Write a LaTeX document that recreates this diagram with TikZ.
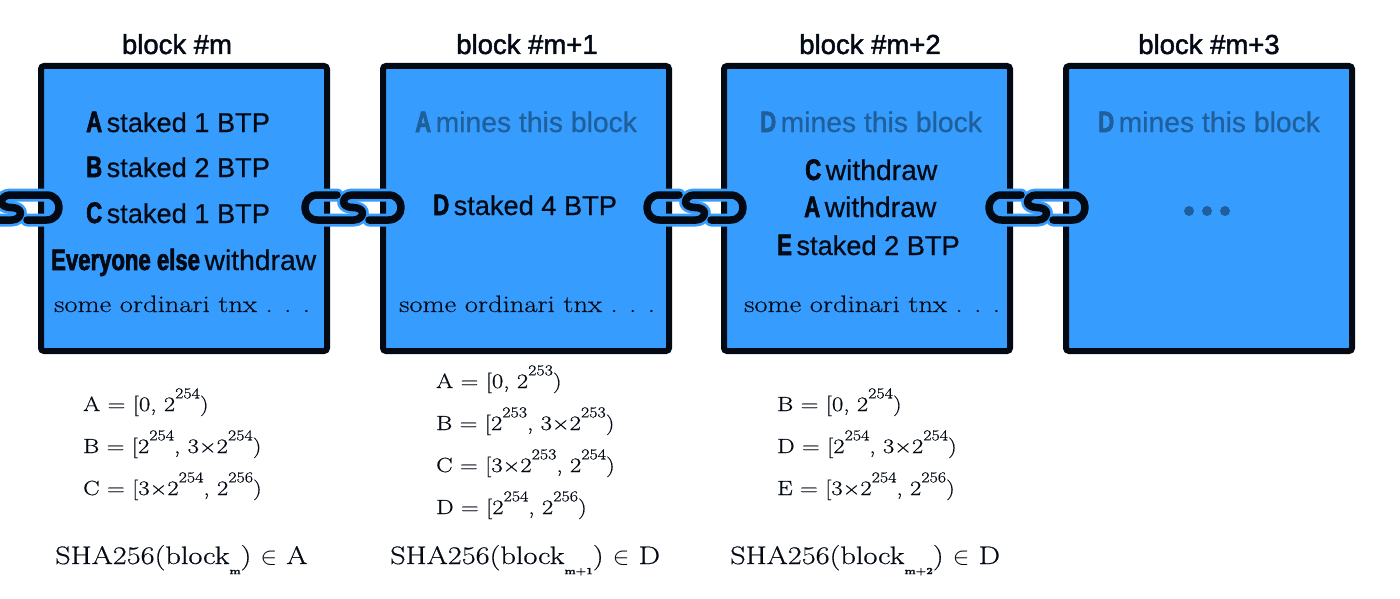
\documentclass[tikz,border=0pt]{standalone}
\usepackage{fontspec}
\setmainfont{Liberation Sans}
\newfontfamily\titlef[FakeBold=1.6]{Liberation Sans}
\newfontfamily\sansf[FakeBold=0.6]{Liberation Sans}
\newfontfamily\impf[FakeStretch=0.75,FakeBold=2.2]{Liberation Sans Bold}
\newfontfamily\slabf[FakeStretch=1.2,FakeBold=0.5]{Latin Modern Roman}
\definecolor{boxblue}{HTML}{369DFF}
\definecolor{inkc}{HTML}{030A14}
\definecolor{dimc}{HTML}{1F5F9C}
\newcommand{\TiT}[1]{{\fontsize{27.5}{27.5}\titlef #1}}
\newcommand{\SaN}[1]{\hspace{4.5pt}{\fontsize{27.2}{27.2}\sansf #1}}
\newcommand{\SaW}[1]{\hspace{4.5pt}{\fontsize{28.3}{28.3}\sansf #1}}
\newcommand{\ImP}[1]{{\fontsize{29.5}{29.5}\impf #1}}
\newcommand{\SlB}[1]{{\fontsize{23.8}{23.8}\slabf #1}}
\newcommand{\SuP}[1]{\raisebox{0.62em}{\fontsize{15}{15}\slabf #1}}
\newcommand{\RaN}[1]{{\fontsize{20.5}{20.5}\slabf #1}}
\newcommand{\HaS}[1]{{\fontsize{25.3}{25.3}\slabf #1}}
\newcommand{\HsB}[1]{\raisebox{-0.4em}{\fontsize{9.5}{9.5}\bfseries\slabf #1}}
\tikzset{
  blockbox/.style={draw=inkc,fill=boxblue,line width=6pt,rounded corners=3pt,minimum width=286pt,minimum height=285pt,inner sep=0pt,outer sep=0pt,anchor=north west},
  lbl/.style={anchor=base west,inner sep=0pt,text=inkc},
  ttl/.style={anchor=base,inner sep=0pt,text=inkc},
  dimlbl/.style={lbl,text=dimc},
  halo/.style={draw=boxblue,line width=13pt,line cap=round,line join=round},
  ink/.style={draw=inkc,line width=7.5pt,line cap=round,line join=round},
  pics/chainlink/.style={code={
    \foreach \s in {halo,ink}{
      \path[\s] (-16,-12.5) -- (-35.5,-12.5) .. controls (-52.2,-12.5) and (-52.2,12.5) .. (-35.5,12.5) -- (1,12.5)
        .. controls (6,12.5) and (9.5,9) .. (9.5,5.5) .. controls (9.5,2) and (5,0) .. (0,0);
      \path[\s] (16,12.5) -- (35.5,12.5) .. controls (52.2,12.5) and (52.2,-12.5) .. (35.5,-12.5) -- (-1,-12.5)
        .. controls (-6,-12.5) and (-9.5,-9) .. (-9.5,-5.5) .. controls (-9.5,-2) and (-5,0) .. (0,0);
    }
  }}
}
\begin{document}
\begin{tikzpicture}[x=1pt,y=-1pt]
\useasboundingbox (0,0) rectangle (1400,599);
\clip (0,0) rectangle (1400,599);
\fill[white] (0,0) rectangle (1400,599);
\node[blockbox] (b1) at (41,66) {};
\node[blockbox] (b2) at (383,66) {};
\node[blockbox] (b3) at (724,66) {};
\node[blockbox] (b4) at (1066,66) {};
\node[ttl] (t1) at (177,54) {\TiT{block \#m}};
\node[ttl] (t2) at (527,54) {\TiT{block \#m+1}};
\node[ttl] (t3) at (870,54) {\TiT{block \#m+2}};
\node[ttl] (t4) at (1209,54) {\TiT{block \#m+3}};
\coordinate (c0) at (11,207.5);
\coordinate (c1) at (353,207.5);
\coordinate (c2) at (695,207.5);
\coordinate (c3) at (1037,207.5);
\pic at (c0) {chainlink};
\pic at (c1) {chainlink};
\pic at (c2) {chainlink};
\pic at (c3) {chainlink};
% block m
\node[lbl] (a1) at (86,132) {\ImP{A}\SaN{staked 1 BTP}};
\node[lbl] (a2) at (86,177) {\ImP{B}\SaN{staked 2 BTP}};
\node[lbl] (a3) at (86,223) {\ImP{C}\SaN{staked 1 BTP}};
\node[lbl] (a4) at (51,270) {\ImP{Everyone else}\SaW{withdraw}};
\node[lbl] (a5) at (54,312) {\SlB{some ordinari tnx . . .}};
% block m+1
\node[dimlbl] (d1) at (415,132) {\ImP{A}\SaW{mines this block}};
\node[lbl] (d2) at (433,215) {\ImP{D}\SaN{staked 4 BTP}};
\node[lbl] (d3) at (399,312) {\SlB{some ordinari tnx . . .}};
% block m+2
\node[dimlbl] (e1) at (760,132) {\ImP{D}\SaW{mines this block}};
\node[lbl] (e2) at (805,180) {\ImP{C}\SaW{withdraw}};
\node[lbl] (e3) at (804,217) {\ImP{A}\SaW{withdraw}};
\node[lbl] (e4) at (777,255) {\ImP{E}\SaN{staked 2 BTP}};
\node[lbl] (e5) at (744,312) {\SlB{some ordinari tnx . . .}};
% block m+3
\node[dimlbl] (f1) at (1098,132) {\ImP{D}\SaW{mines this block}};
\fill[dimc] (1189,211) circle (5) (1207,211) circle (5) (1225,211) circle (5);
% ranges
\node[lbl] (r1) at (83,411) {\RaN{A = [0, 2\SuP{254})}};
\node[lbl] (r2) at (83,453) {\RaN{B = [2\SuP{254}, 3×2\SuP{254})}};
\node[lbl] (r3) at (83,495) {\RaN{C = [3×2\SuP{254}, 2\SuP{256})}};
\node[lbl] (r4) at (436,388) {\RaN{A = [0, 2\SuP{253})}};
\node[lbl] (r5) at (436,430) {\RaN{B = [2\SuP{253}, 3×2\SuP{253})}};
\node[lbl] (r6) at (436,472) {\RaN{C = [3×2\SuP{253}, 2\SuP{254})}};
\node[lbl] (r7) at (436,514) {\RaN{D = [2\SuP{254}, 2\SuP{256})}};
\node[lbl] (r8) at (777,411) {\RaN{B = [0, 2\SuP{254})}};
\node[lbl] (r9) at (777,453) {\RaN{D = [2\SuP{254}, 3×2\SuP{254})}};
\node[lbl] (r10) at (777,495) {\RaN{E = [3×2\SuP{254}, 2\SuP{256})}};
% hashes
\node[lbl] (h1) at (55,564) {\HaS{SHA256(block\HsB{m}) $\in$ A}};
\node[lbl] (h2) at (390,564) {\HaS{SHA256(block\HsB{m+1}) $\in$ D}};
\node[lbl] (h3) at (730,564) {\HaS{SHA256(block\HsB{m+2}) $\in$ D}};
\end{tikzpicture}
\end{document}
